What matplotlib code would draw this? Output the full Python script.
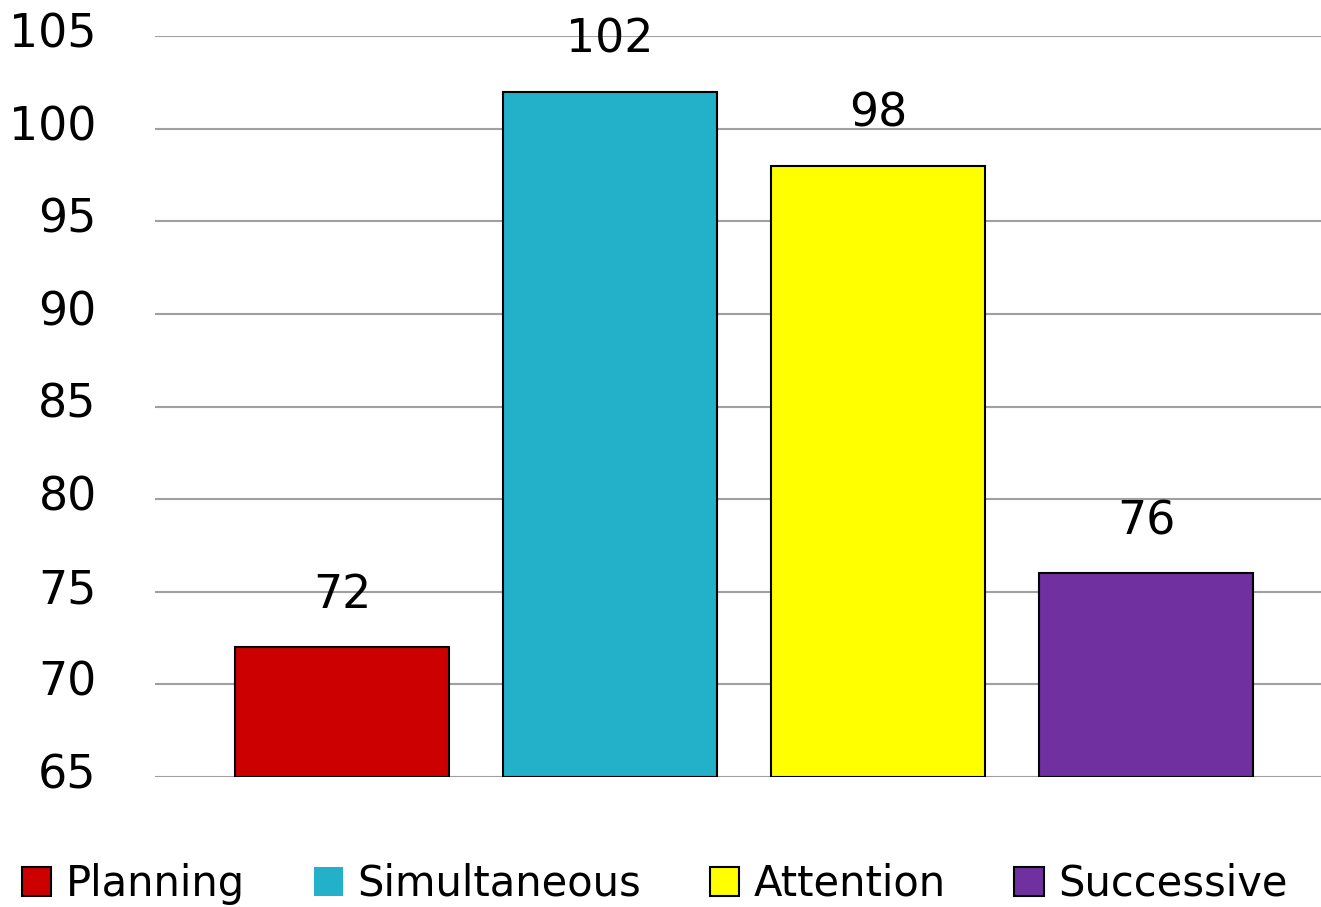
import matplotlib.pyplot as plt
import matplotlib.transforms as mtransforms
from matplotlib.patches import Patch

# data
categories = ['Planning', 'Simultaneous', 'Attention', 'Successive']
scores = [72, 102, 98, 76]
colors = ['#CC0000', '#23B0C9', '#FFFF00', '#7030A0']

plt.rcParams['font.family'] = ['DejaVu Sans']

fig = plt.figure(figsize=(13.21, 9.07), dpi=100, facecolor='white')
ax = fig.add_axes([155 / 1321, 1 - 777 / 907, 1 - 155 / 1321, (777 - 36) / 907])

x = range(len(categories))
bars = ax.bar(x, [s - 65 for s in scores], bottom=65, width=0.8,
              color=colors, edgecolor='black', linewidth=1.5, zorder=3)

for xi, s in zip(x, scores):
    ax.annotate(str(s), (xi, s), xytext=(0, 37), textcoords='offset points',
                ha='center', va='center', fontsize=33)

# axes style
ax.set_ylim(65, 105)
ax.set_xlim(-0.698, 3.653)
ax.set_yticks(range(65, 106, 5))
ax.set_xticks([])
ax.grid(True, axis='y', color='#a0a0a0', linewidth=1.5, zorder=0)
ax.tick_params(axis='y', length=0, pad=42, labelsize=33)
for sp in ax.spines.values():
    sp.set_visible(False)

# labels sit a little above their gridlines
shift = mtransforms.ScaledTranslation(0, 6 / 100, fig.dpi_scale_trans)
for lbl in ax.get_yticklabels():
    lbl.set_transform(lbl.get_transform() + shift)

# legend
handles = []
for c, lab in zip(colors, categories):
    ec = 'none' if lab == 'Simultaneous' else 'black'
    handles.append(Patch(facecolor=c, edgecolor=ec, linewidth=1.5, label=lab))
fig.legend(handles=handles, loc='center left', bbox_to_anchor=(0.004, 1 - 884 / 907),
           ncol=4, frameon=False, fontsize=30, handlelength=0.7, handleheight=0.7,
           handletextpad=0.35, columnspacing=1.65, borderaxespad=0)

fig.savefig('out.png', dpi=100, facecolor='white')
